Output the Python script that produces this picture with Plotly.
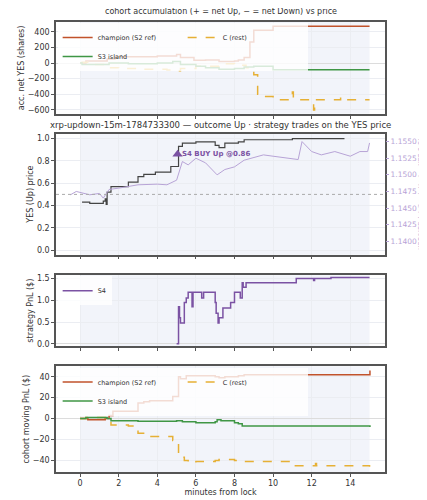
import plotly.graph_objects as go

# ---- panel 1: accumulation ----
acc_champ_x = [0, 0.3, 1.4, 1.8, 4.0, 5.0, 5.2, 5.9, 6.5, 7.2, 8.0, 8.2, 8.5, 8.8, 9.0, 10.0, 15.0]
acc_champ_y = [0, 25, 50, 80, 90, 110, 70, 35, 40, 20, 25, 40, 70, 270, 420, 470, 470]
acc_s3_x = [0, 0.1, 1.5, 2.5, 4.0, 4.8, 5.2, 6.0, 6.5, 7.2, 8.0, 8.5, 9.0, 10.0, 15.0]
acc_s3_y = [0, -20, 0, -10, 0, 20, -20, -40, -60, -80, -70, -50, -40, -85, -85]
acc_c_x = [0, 0.1, 0.4, 1.5, 2.0, 3.0, 4.5, 4.8, 5.2, 6.0, 7.2, 7.5, 8.0, 8.6, 9.0, 9.2, 9.5, 10.0, 11.0, 11.05, 12.1, 12.15, 13.5, 13.55, 15.0]
acc_c_y = [0, 10, -20, -60, -70, -80, -90, -100, -70, -40, -20, -10, -30, -60, -150, -400, -430, -470, -370, -470, -600, -470, -440, -470, -470]

# ---- panel 2: YES price and XRP ----
yes_x = [0.1, 0.5, 1.2, 1.3, 1.35, 1.4, 1.6, 2.5, 3.0, 3.3, 3.9, 4.7, 5.1, 5.3, 6.0, 7.0, 7.2, 7.5, 8.2, 8.5, 11.0, 13.7]
yes_y = [0.43, 0.42, 0.44, 0.46, 0.41, 0.52, 0.57, 0.61, 0.66, 0.68, 0.70, 0.75, 0.93, 0.96, 0.97, 0.94, 0.92, 0.96, 0.97, 0.99, 1.0, 1.0]
xrp_x = [-0.5, -0.2, 0.5, 1.0, 1.2, 1.5, 2.0, 2.5, 3.0, 4.0, 4.5, 5.0, 5.3, 5.6, 6.0, 6.5, 7.1, 7.5, 8.0, 8.5, 9.5, 10.0, 11.0, 11.3, 11.5, 12.0, 12.5, 13.2, 14.0, 14.5, 14.9, 15.0]
xrp_y = [1.1470, 1.1475, 1.1470, 1.1472, 1.1465, 1.1478, 1.1480, 1.1482, 1.1485, 1.1486, 1.1485, 1.1492, 1.1520, 1.1515, 1.1525, 1.1518, 1.1500, 1.1508, 1.1512, 1.1522, 1.1530, 1.1528, 1.1525, 1.1523, 1.1550, 1.1535, 1.1530, 1.1535, 1.1528, 1.1535, 1.1535, 1.1548]
strike = 0.5
buy_x = [5.05]
buy_y = [0.86]

# ---- panel 3: S4 PnL ----
s4_x = [5.0, 5.1, 5.15, 5.2, 5.4, 5.5, 5.6, 5.8, 5.85, 5.9, 6.3, 6.4, 7.0, 7.05, 7.15, 7.2, 7.4, 7.8, 8.0, 8.3, 8.4, 8.45, 8.6, 11.2, 12.1, 12.15, 13.0, 15.0]
s4_y = [0, 0.85, 0.6, 0.48, 0.95, 1.05, 1.18, 0.85, 1.18, 1.18, 1.05, 1.18, 0.95, 0.7, 0.48, 0.6, 0.82, 0.95, 1.18, 1.05, 1.4, 1.3, 1.4, 1.5, 1.45, 1.5, 1.52, 1.52]

# ---- panel 4: cohort PnL ----
pnl_champ_x = [0, 0.4, 1.3, 1.5, 1.7, 3.0, 3.3, 3.6, 4.8, 5.1, 5.2, 5.5, 7.0, 7.2, 7.5, 8.2, 8.5, 15.0, 15.02]
pnl_champ_y = [0, -1, 0, 3, 7, 15, 16, 17, 21, 40, 38, 41, 40, 39, 40, 41, 42, 42, 46]
pnl_s3_x = [0, 0.3, 1.4, 1.6, 3.0, 5.0, 5.3, 6.0, 7.0, 7.1, 7.3, 8.0, 8.2, 8.4, 15.0, 15.02]
pnl_s3_y = [0, 1, 0, -2, -2.5, -2, -3, -4, -3, -1, -2, -4, -5, -7, -7, -8]
pnl_c_x = [0, 0.3, 1.3, 1.6, 2.5, 3.0, 3.6, 4.8, 5.1, 5.4, 5.6, 6.0, 7.0, 7.2, 8.0, 8.5, 11.0, 12.2, 12.25, 15.0]
pnl_c_y = [0, 1, 0, -6, -7, -14, -17, -21, -37, -40, -42, -41, -40, -39, -40, -41, -45, -43, -45, -46]

C_CH, C_S3, C_C, C_S4, C_XRP = "#c1522b", "#3f9645", "#e6b035", "#7b52a3", "#b7a3d6"
FONT = "DejaVu Sans"

fig = go.Figure()
def st(x, y, name, color, xa, ya, dash="solid", show=True, legend="legend", w=1.5):
    fig.add_trace(go.Scatter(x=x, y=y, name=name, mode="lines", line=dict(color=color, width=w, dash=dash, shape="hv"),
                             xaxis=xa, yaxis=ya, showlegend=show, legend=legend))

st(acc_champ_x, acc_champ_y, "champion (S2 ref)", C_CH, "x", "y")
st(acc_c_x, acc_c_y, "C (rest)", C_C, "x", "y", dash="dash")
st(acc_s3_x, acc_s3_y, "S3 island", C_S3, "x", "y")
fig.add_trace(go.Scatter(x=xrp_x, y=xrp_y, mode="lines", line=dict(color=C_XRP, width=1), xaxis="x2", yaxis="y5", showlegend=False))
st(yes_x, yes_y, "YES", "#444444", "x2", "y2", show=False, w=1.2)
fig.add_trace(go.Scatter(x=buy_x, y=buy_y, mode="markers", marker=dict(symbol="triangle-up", size=9, color=C_S4),
                         xaxis="x2", yaxis="y2", showlegend=False))
st(s4_x, s4_y, "S4", C_S4, "x3", "y3", legend="legend2")
st(pnl_champ_x, pnl_champ_y, "champion (S2 ref)", C_CH, "x4", "y4", legend="legend3")
st(pnl_c_x, pnl_c_y, "C (rest)", C_C, "x4", "y4", dash="dash", legend="legend3")
st(pnl_s3_x, pnl_s3_y, "S3 island", C_S3, "x4", "y4", legend="legend3")

doms = [[0.796, 1.0], [0.483, 0.752], [0.280, 0.437], [0.0, 0.235]]
ax_common = dict(range=[-1.25, 15.8], showline=True, linecolor="#555", linewidth=1.5, mirror=True,
                 ticks="outside", ticklen=3, tickcolor="#555", gridcolor="#ebedf2", tickvals=list(range(0, 15, 2)),
                 zeroline=False)
lay = dict(width=427, height=500, margin=dict(l=38, r=42, t=14, b=26), plot_bgcolor="white", paper_bgcolor="white",
           font=dict(family=FONT, size=8, color="#333"))
for i, d in enumerate(doms):
    k = "" if i == 0 else str(i + 1)
    xa = dict(ax_common, domain=[0, 1], anchor="y" + k, showticklabels=(i == 3))
    if i == 3:
        xa["title"] = dict(text="minutes from lock", font=dict(size=8), standoff=2)
    lay["xaxis" + k] = xa
    lay["yaxis" + k] = dict(domain=d, anchor="x" + k, showline=True, linecolor="#555", linewidth=1.5, mirror=True,
                            ticks="outside", ticklen=3, tickcolor="#555", gridcolor="#ebedf2",
                            zeroline=True, zerolinecolor="#dcdcdc", zerolinewidth=1, title=dict(font=dict(size=8), standoff=2))
lay["yaxis"].update(range=[-650, 525], tickvals=[-600, -400, -200, 0, 200, 400], title_text="acc. net YES (shares)")
lay["yaxis2"].update(range=[-0.04, 1.045], tickvals=[0, 0.2, 0.4, 0.6, 0.8, 1.0], tickformat=".1f", title_text="YES (Up) price", zeroline=False)
lay["yaxis3"].update(range=[-0.05, 1.57], tickvals=[0, 0.5, 1.0, 1.5], tickformat=".1f", title_text="strategy PnL ($)")
lay["yaxis4"].update(range=[-51, 50], tickvals=[-40, -20, 0, 20, 40], title_text="cohort moving PnL ($)")
lay["yaxis5"] = dict(overlaying="y2", side="right", anchor="x2", range=[1.138, 1.1562], showgrid=False,
                     tickvals=[1.14, 1.1425, 1.145, 1.1475, 1.15, 1.1525, 1.155], tickformat=".4f",
                     ticks="outside", ticklen=3, tickcolor=C_XRP, tickfont=dict(color=C_XRP, size=7.5),
                     title=dict(text="XRP/USD (strike dotted = YES 0.5)", font=dict(color=C_XRP, size=6.5), standoff=1))
leg = dict(bgcolor="rgba(255,255,255,0.8)", borderwidth=0, font=dict(size=6.5), xanchor="left", yanchor="top",
           itemwidth=30, tracegroupgap=0)
lay["legend"] = dict(leg, x=0.005, y=0.998, orientation="h", entrywidth=80)
lay["legend2"] = dict(leg, x=0.005, y=0.435)
lay["legend3"] = dict(leg, x=0.005, y=0.232, orientation="h", entrywidth=80)
fig.update_layout(**lay)

shapes = []
for i in range(4):
    k = "" if i == 0 else str(i + 1)
    shapes.append(dict(type="rect", xref="x" + k, yref="y" + k + " domain", x0=0, x1=15, y0=0, y1=1,
                       fillcolor="#f2f4fa", line_width=0, layer="below"))
shapes.append(dict(type="line", xref="x2 domain", yref="y2", x0=0, x1=1, y0=strike, y1=strike,
                   line=dict(color="#aaaaaa", width=1, dash="dot")))
fig.update_layout(shapes=shapes)
fig.add_annotation(text="cohort accumulation (+ = net Up, − = net Down) vs price", xref="paper", yref="paper",
                   x=0.5, y=1.0, yshift=4, yanchor="bottom", showarrow=False, font=dict(size=8))
fig.add_annotation(text="xrp-updown-15m-1784733300 — outcome Up · strategy trades on the YES price", xref="paper", yref="paper",
                   x=0.5, y=0.752, yshift=2, yanchor="bottom", showarrow=False, font=dict(size=8.5))
fig.add_annotation(text="<b>S4 BUY Up @0.86</b>", xref="x2", yref="y2", x=5.15, y=0.86, xanchor="left",
                   showarrow=False, font=dict(size=7, color=C_S4))
fig.write_html("out.html")
